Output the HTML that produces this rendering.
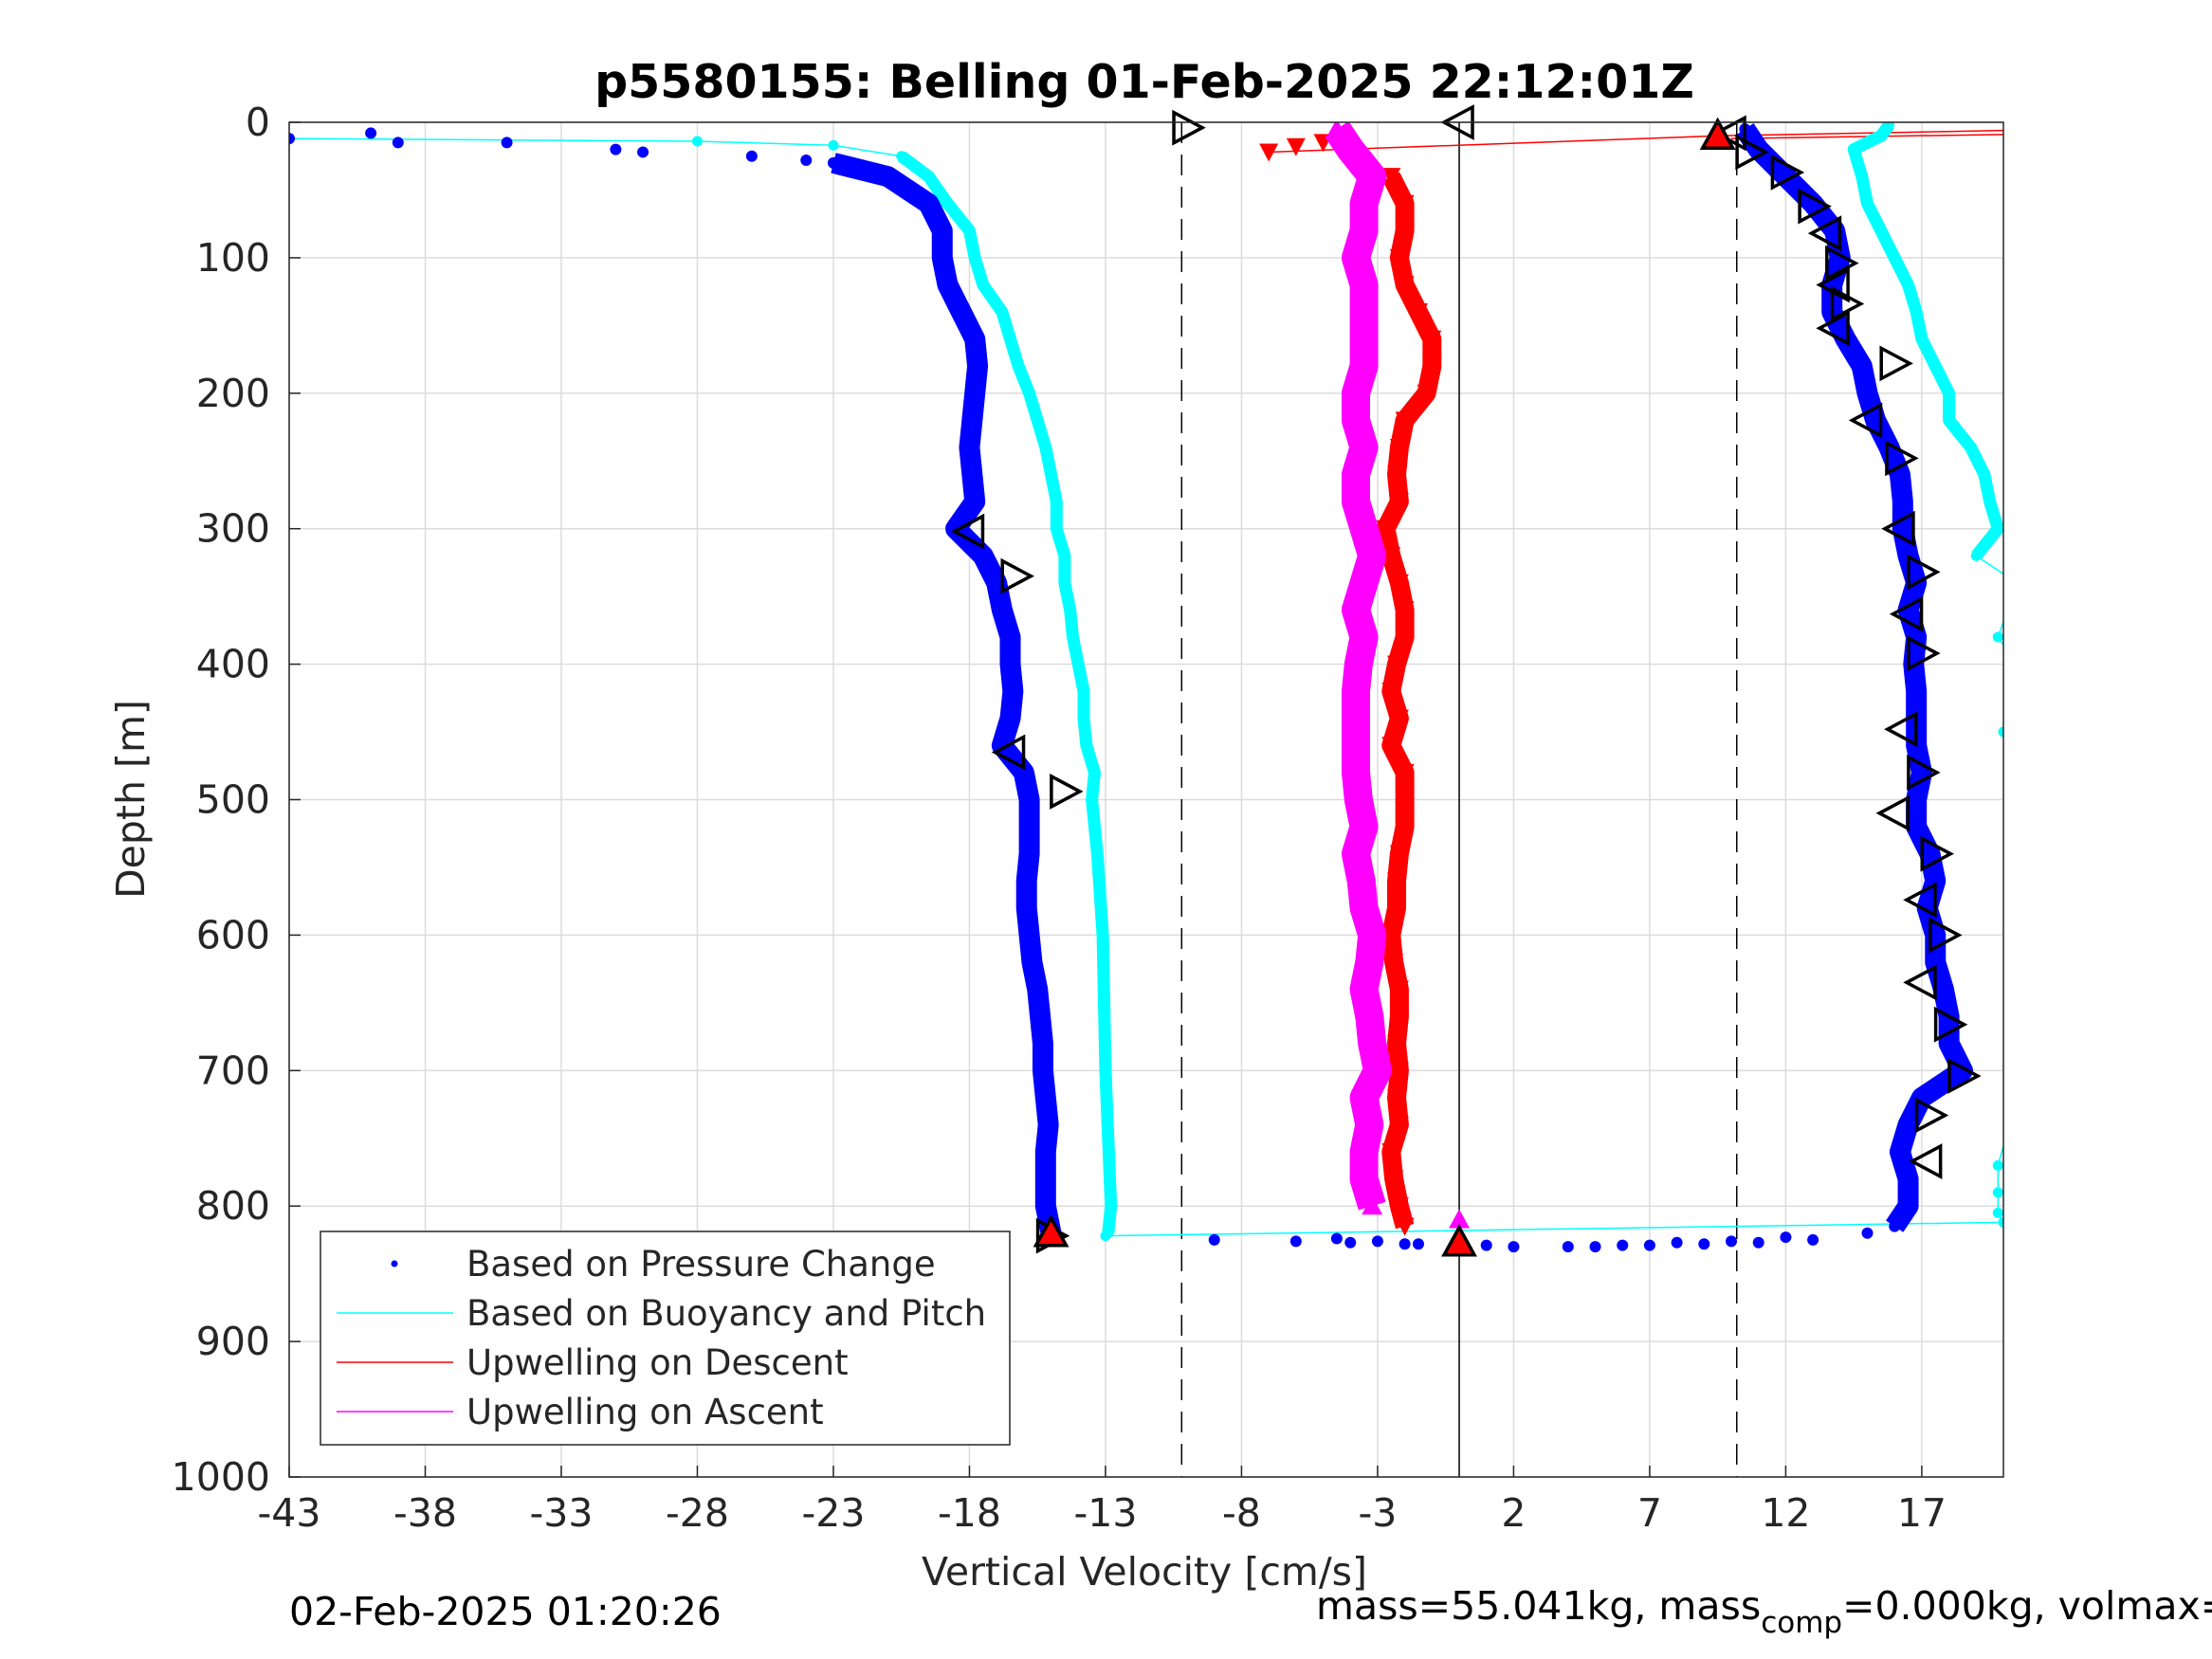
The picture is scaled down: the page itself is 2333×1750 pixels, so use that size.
<!DOCTYPE html>
<html><head><meta charset="utf-8"><style>
html,body{margin:0;padding:0;background:#fff;}
svg{display:block;font-family:"DejaVu Sans","Liberation Sans",sans-serif;}
</style></head><body>
<svg id="chart" width="2333" height="1750" viewBox="0 0 2333 1750" xmlns="http://www.w3.org/2000/svg">
<defs><clipPath id="plotclip"><rect x="305" y="129" width="1808" height="1429"/></clipPath></defs>
<rect x="0" y="0" width="2333" height="1750" fill="#fff"/>
<text x="1207" y="103" font-size="49" font-weight="bold" text-anchor="middle">p5580155: Belling 01-Feb-2025 22:12:01Z</text>
<g id="grid"></g>
<g id="marks" clip-path="url(#plotclip)"></g>
<g id="marks2"></g>
<rect x="305" y="129" width="1808" height="1429" fill="none" stroke="#262626" stroke-width="1.5"/>
<g id="ticks"></g>
<text x="1207" y="1672" font-size="41" text-anchor="middle" fill="#262626">Vertical Velocity [cm/s]</text>
<text transform="translate(152,843) rotate(-90)" font-size="41" text-anchor="middle" fill="#262626">Depth [m]</text>
<text x="305" y="1714" font-size="41">02-Feb-2025 01:20:26</text>
<text x="1388" y="1708" font-size="41">mass=55.041kg, mass<tspan font-size="31" dy="14">comp</tspan><tspan dy="-14">=0.000kg, volmax=1.2e-04m^3</tspan></text>
<g>
<rect x="338" y="1299" width="727" height="225" fill="#fff" stroke="#262626" stroke-width="1.5"/>
<circle cx="416" cy="1333" r="3.5" fill="#0000ff"/>
<text x="492" y="1346" font-size="37" fill="#262626">Based on Pressure Change</text>
<line x1="355" y1="1385" x2="478" y2="1385" stroke="#00ffff" stroke-width="1.5"/>
<text x="492" y="1398" font-size="37" fill="#262626">Based on Buoyancy and Pitch</text>
<line x1="355" y1="1437" x2="478" y2="1437" stroke="#ff0000" stroke-width="1.5"/>
<text x="492" y="1450" font-size="37" fill="#262626">Upwelling on Descent</text>
<line x1="355" y1="1489" x2="478" y2="1489" stroke="#ff00ff" stroke-width="1.5"/>
<text x="492" y="1502" font-size="37" fill="#262626">Upwelling on Ascent</text>
</g>
</svg>
<script>
const xTicks=[-43,-38,-33,-28,-23,-18,-13,-8,-3,2,7,12,17];
const yTicks=[0,100,200,300,400,500,600,700,800,900,1000];
const bluePD=[12,8,15,15,20,22,25,28,30,40,60,80,100,120,140,160,180,200,220,240,260,280,300,320,340,360,380,400,420,440,460,480,500,520,540,560,580,600,620,640,660,680,700,720,740,760,780,800,820,825,826,827,828,829,830,830,829,828,827,825,820,815,800,780,760,740,720,700,680,660,640,620,600,580,560,540,520,500,480,460,440,420,400,380,360,340,320,300,280,260,240,220,200,180,160,140,120,100,80,60,40,20,5,824,826,828,829,830,829,827,826,823];
const bluePV=[-43,-40,-39,-35,-31,-30,-26,-24,-23,-21,-19.5,-19,-19,-18.8,-18.3,-17.8,-17.7,-17.8,-17.9,-18,-17.9,-17.8,-18.5,-17.5,-17,-16.8,-16.5,-16.5,-16.4,-16.5,-16.8,-16,-15.8,-15.8,-15.8,-15.9,-15.9,-15.8,-15.7,-15.5,-15.4,-15.3,-15.3,-15.2,-15.1,-15.2,-15.2,-15.2,-15,-9,-6,-4,-2,0,2,5,7,9,11,13,15,16,16.5,16.5,16.2,16.5,17,18.5,18,18,17.8,17.5,17.5,17.2,17.5,17.3,16.8,16.8,17,16.8,16.8,16.8,16.7,16.8,16.5,16.8,16.5,16.3,16.3,16.2,15.8,15.3,15,14.8,14.2,13.7,13.7,14,13.8,13,12,11,10.5,-4.5,-3,-1.5,1,4,6,8,10,12];
const cyanD=[12,14,17,25,40,60,80,100,120,140,160,180,200,220,240,260,280,300,320,340,360,380,400,420,440,460,480,500,540,600,700,800,820,822,812,805,790,770,720,650,550,450,400,380,340,320,300,280,260,240,220,200,180,160,140,120,100,80,60,40,20,10,2];
const cyanV=[-43,-28,-23,-20.5,-19.5,-18.8,-18,-17.8,-17.5,-16.8,-16.5,-16.2,-15.8,-15.5,-15.2,-15,-14.8,-14.8,-14.5,-14.5,-14.3,-14.2,-14,-13.8,-13.8,-13.7,-13.4,-13.5,-13.3,-13.1,-13,-12.8,-12.9,-13,20,19.8,19.8,19.8,20.5,20.5,20.5,20,20.5,19.8,20.5,19,19.8,19.5,19.3,18.8,18,18,17.5,17,16.8,16.5,16,15.5,15,14.8,14.5,15.5,15.8];
const redD=[22,18,15,40,60,80,100,120,140,160,180,200,220,240,260,280,300,320,340,360,380,400,420,440,460,480,500,520,540,560,580,600,620,640,660,680,700,720,740,760,780,800,815];
const redV=[-7,-6,-5,-2.5,-2,-2,-2.2,-2,-1.5,-1,-1,-1.2,-2,-2.2,-2.3,-2.2,-2.7,-2.5,-2.2,-2,-2,-2.3,-2.5,-2.2,-2.5,-2,-2,-2,-2.2,-2.3,-2.3,-2.5,-2.4,-2.2,-2.2,-2.3,-2.2,-2.3,-2.2,-2.5,-2.4,-2.2,-2];
const magD=[810,800,780,760,740,720,700,680,660,640,620,600,580,560,540,520,500,480,460,440,420,400,380,360,340,320,300,280,260,240,220,200,180,160,140,120,100,80,60,40,20,5];
const magV=[0,-3.2,-3.5,-3.5,-3.3,-3.5,-3,-3.2,-3.3,-3.5,-3.3,-3.2,-3.5,-3.6,-3.8,-3.5,-3.7,-3.8,-3.8,-3.8,-3.8,-3.7,-3.5,-3.8,-3.5,-3.2,-3.5,-3.8,-3.8,-3.5,-3.8,-3.8,-3.5,-3.5,-3.5,-3.5,-3.8,-3.5,-3.5,-3.2,-4,-4.5];
const triV=[-18,-16.3,-16.5,-14.5,-15,-10,0,10,10.7,12,13,13.5,14,13.8,14.2,13.8,16,15,16.2,16.2,17,16.5,17,16.3,17,16,17.5,17,17.8,17,18,18.5,17.3,17.2];
const triD=[302,335,465,494,822,4,0,8,22,37,62,82,104,120,134,152,178,220,248,300,332,363,392,448,480,510,540,574,600,635,666,704,733,767];
const triDir=["L","R","L","R","R","R","L","L","R","R","R","L","R","L","R","L","R","L","R","L","R","L","R","L","R","L","R","L","R","L","R","R","R","L"];
const redTriV=[9.5,-15,0];
const redTriD=[10,820,827];
const vLinesV=[-10.2,0,10.2];

const NS="http://www.w3.org/2000/svg";
const X0=305,X1=2113,Y0=129,Y1=1558,XMIN=-43,XMAX=20,YMAX=1000;
function xs(v){return X0+(v-XMIN)*(X1-X0)/(XMAX-XMIN);}
function ys(d){return Y0+d*(Y1-Y0)/YMAX;}
function mk(tag,parent,attrs){const e=document.createElementNS(NS,tag);for(const k in attrs)e.setAttribute(k,attrs[k]);parent.appendChild(e);return e;}
const grid=document.getElementById('grid'),marks=document.getElementById('marks'),marks2=document.getElementById('marks2'),ticks=document.getElementById('ticks');
xTicks.forEach(t=>{const l=mk('line',grid,{x1:xs(t),x2:xs(t),y1:Y0,y2:Y1,stroke:'#dcdcdc','stroke-width':1.5});


const tk=mk('line',ticks,{x1:xs(t),x2:xs(t),y1:Y1,y2:Y1-12,stroke:'#262626','stroke-width':1.5});


const tx=mk('text',ticks,{x:xs(t),y:Y1+52,'font-size':41,'text-anchor':'middle',fill:'#262626'});tx.textContent=t;

});
yTicks.forEach(t=>{const l=mk('line',grid,{x1:X0,x2:X1,y1:ys(t),y2:ys(t),stroke:'#dcdcdc','stroke-width':1.5});


const tk=mk('line',ticks,{x1:X0,x2:X0+12,y1:ys(t),y2:ys(t),stroke:'#262626','stroke-width':1.5});


const tx=mk('text',ticks,{x:X0-20,y:ys(t)+14,'font-size':41,'text-anchor':'end',fill:'#262626'});tx.textContent=t;

});
vLinesV.forEach(v=>{const l=mk('line',marks,{x1:xs(v),x2:xs(v),y1:Y0,y2:Y1,stroke:'#000','stroke-width':1.5});
if(v!==0)l.setAttribute('stroke-dasharray','22,12');

});
function pts(V,D,a,b){const o=[];for(let i=a;i<=b&&i<V.length;i++)o.push(xs(V[i])+','+ys(D[i]));return o.join(' ');}
function band(V,D,a,b,color,w,name){const p=mk('polyline',marks,{points:pts(V,D,a,b),fill:'none',stroke:color,'stroke-width':w,'stroke-linejoin':'round'});

}
const rl=mk('polyline',marks,{points:xs(-7)+','+ys(22)+' '+xs(9.5)+','+ys(10)+' '+xs(20)+','+ys(6),fill:'none',stroke:'#ff0000','stroke-width':1.5});


const rl2=mk('polyline',marks,{points:xs(10)+','+ys(12)+' '+xs(20)+','+ys(9),fill:'none',stroke:'#ff0000','stroke-width':1.5});


band(cyanV,cyanD,0,cyanV.length-1,'#00ffff',1.5,'buoyancy-line');
band(cyanV,cyanD,3,32,'#00ffff',13,'buoyancy-descent-band');
band(cyanV,cyanD,45,cyanV.length-1,'#00ffff',13,'buoyancy-ascent-band');
cyanV.forEach((v,i)=>{const c=mk('circle',marks,{cx:xs(v),cy:ys(cyanD[i]),r:5.5,fill:'#00ffff'});

});
band(bluePV,bluePD,8,48,'#0000ff',22,'pressure-descent-band');
band(bluePV,bluePD,61,102,'#0000ff',22,'pressure-ascent-band');
bluePV.forEach((v,i)=>{const c=mk('circle',marks,{cx:xs(v),cy:ys(bluePD[i]),r:6,fill:'#0000ff'});

});
band(redV,redD,3,redV.length-1,'#ff0000',20,'upwelling-descent-band');
redV.forEach((v,i)=>{const x=xs(v),y=ys(redD[i]);const p=mk('polygon',marks,{points:(x-10)+','+(y-9)+' '+(x+10)+','+(y-9)+' '+x+','+(y+10),fill:'#ff0000'});

});
band(magV,magD,1,magV.length-1,'#ff00ff',30,'upwelling-ascent-band');
magV.forEach((v,i)=>{const x=xs(v),y=ys(magD[i]);const p=mk('polygon',marks,{points:(x-11)+','+(y+9)+' '+(x+11)+','+(y+9)+' '+x+','+(y-11),fill:'#ff00ff'});

});
triV.forEach((v,i)=>{const x=xs(v),y=ys(triD[i]);const s=triDir[i]==='R'?1:-1;
const p=mk('polygon',marks2,{points:(x-14*s)+','+(y-16)+' '+(x-14*s)+','+(y+16)+' '+(x+16*s)+','+y,fill:'none',stroke:'#000','stroke-width':3.5});

});
redTriV.forEach((v,i)=>{const x=xs(v),y=ys(redTriD[i]);const p=mk('polygon',marks2,{points:(x-16)+','+(y+13)+' '+(x+16)+','+(y+13)+' '+x+','+(y-16),fill:'#ff0000',stroke:'#000','stroke-width':3.5});

});
</script>
</body></html>
